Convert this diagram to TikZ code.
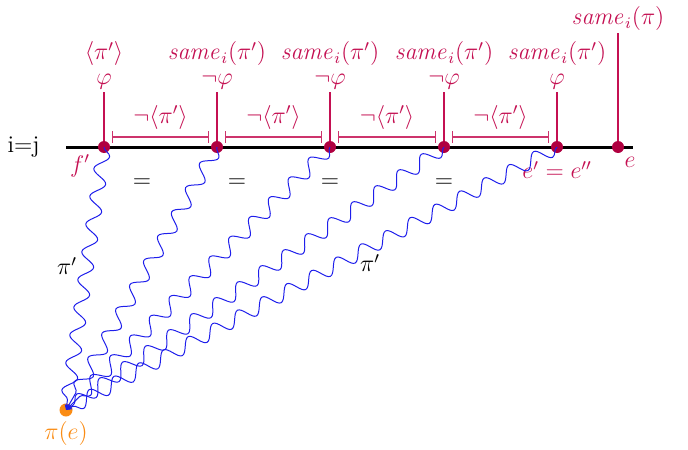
\documentclass[tikz,border=0pt]{standalone}
\usepackage{amsmath,amssymb}
\usepackage{xcolor}
\usepackage{tikz}
\usetikzlibrary{arrows.meta,positioning,decorations.pathmorphing}
\definecolor{evred}{RGB}{196,16,82}
\definecolor{evdot}{RGB}{176,0,64}
\definecolor{evorange}{RGB}{250,140,20}
\definecolor{pathblue}{RGB}{30,30,235}

\begin{document}
\begin{tikzpicture}[
		x=0.5pt,y=-0.5pt,
		font=\large,
		dot/.style={circle,fill=evdot,inner sep=0pt,minimum size=6pt},
		marker/.style={evred,line width=0.8pt},
		interval/.style={evred!85,line width=0.7pt,{Bar[width=6pt]}-{Bar[width=6pt]}},
		wavy/.style={pathblue,line width=0.5pt,decorate,decoration={snake,amplitude=3.5pt,segment length=14pt,post length=3pt},-{Stealth[length=3pt]}},
		lbl/.style={text=evred,align=center,inner sep=1pt}
		]
	\useasboundingbox (0,0) rectangle (688,449);
	% time line
	\coordinate (l0) at (66,147);
	\coordinate (l1) at (633,147);
	\coordinate (p1) at (104,147);
	\coordinate (p2) at (217,147);
	\coordinate (p3) at (330,147);
	\coordinate (p4) at (444,147);
	\coordinate (p5) at (557,147);
	\coordinate (p6) at (618,147);
	\draw[line width=1.5pt] (l0)--(l1);
	\node[left=13pt of l0,inner sep=0pt] (ij) {i=j};
	% markers above the line
	\node[lbl,anchor=south] (s1) at (104,92) {$\langle\pi'\rangle$\\[-1.5pt]$\varphi$};
	\node[lbl,anchor=south] (s2) at (217,92) {$\mathit{same}_i(\pi')$\\[-1.5pt]$\neg\varphi$};
	\node[lbl,anchor=south] (s3) at (330,92) {$\mathit{same}_i(\pi')$\\[-1.5pt]$\neg\varphi$};
	\node[lbl,anchor=south] (s4) at (444,92) {$\mathit{same}_i(\pi')$\\[-1.5pt]$\neg\varphi$};
	\node[lbl,anchor=south] (s5) at (557,92) {$\mathit{same}_i(\pi')$\\[-1.5pt]$\varphi$};
	\node[lbl,anchor=south] (s6) at (618,33) {$\mathit{same}_i(\pi)$};
	\draw[marker] (p1)--(s1.south);
	\draw[marker] (p2)--(s2.south);
	\draw[marker] (p3)--(s3.south);
	\draw[marker] (p4)--(s4.south);
	\draw[marker] (p5)--(s5.south);
	\draw[marker] (p6)--(s6.south);
	% intervals
	\draw[interval] ([shift={(8,-10)}]p1)--([shift={(-8,-10)}]p2) node[midway,above,text=evred] (n1) {$\neg\langle\pi'\rangle$};
	\draw[interval] ([shift={(8,-10)}]p2)--([shift={(-8,-10)}]p3) node[midway,above,text=evred] (n2) {$\neg\langle\pi'\rangle$};
	\draw[interval] ([shift={(8,-10)}]p3)--([shift={(-8,-10)}]p4) node[midway,above,text=evred] (n3) {$\neg\langle\pi'\rangle$};
	\draw[interval] ([shift={(8,-10)}]p4)--([shift={(-8,-10)}]p5) node[midway,above,text=evred] (n4) {$\neg\langle\pi'\rangle$};
	% points
	\node[dot] (d1) at (p1) {};
	\node[dot] (d2) at (p2) {};
	\node[dot] (d3) at (p3) {};
	\node[dot] (d4) at (p4) {};
	\node[dot] (d5) at (p5) {};
	\node[dot] (d6) at (p6) {};
	\node[lbl] (fp) at (80,166) {$f'$};
	\node[lbl] (epp) at (557,170) {$e' = e''$};
	\node[lbl] (e) at (630,162) {$e$};
	\node (eq1) at (142,183) {$=$};
	\node (eq2) at (237,183) {$=$};
	\node (eq3) at (330,183) {$=$};
	\node (eq4) at (444,183) {$=$};
	% origin of the paths
	\node[circle,fill=evorange,inner sep=0pt,minimum size=6.5pt] (pe) at (66,410) {};
	\node[text=evorange,below=1pt of pe,inner sep=1pt] (pel) {$\pi(e)$};
	\draw[wavy] (d1.center)--(pe.center);
	\draw[wavy] (d2.center)--(pe.center);
	\draw[wavy] (d3.center)--(pe.center);
	\draw[wavy] (d4.center)--(pe.center);
	\draw[wavy] (d5.center)--(pe.center);
	\node (pi1) at (67,266) {$\pi'$};
	\node (pi2) at (370,263) {$\pi'$};
\end{tikzpicture}
\end{document}
